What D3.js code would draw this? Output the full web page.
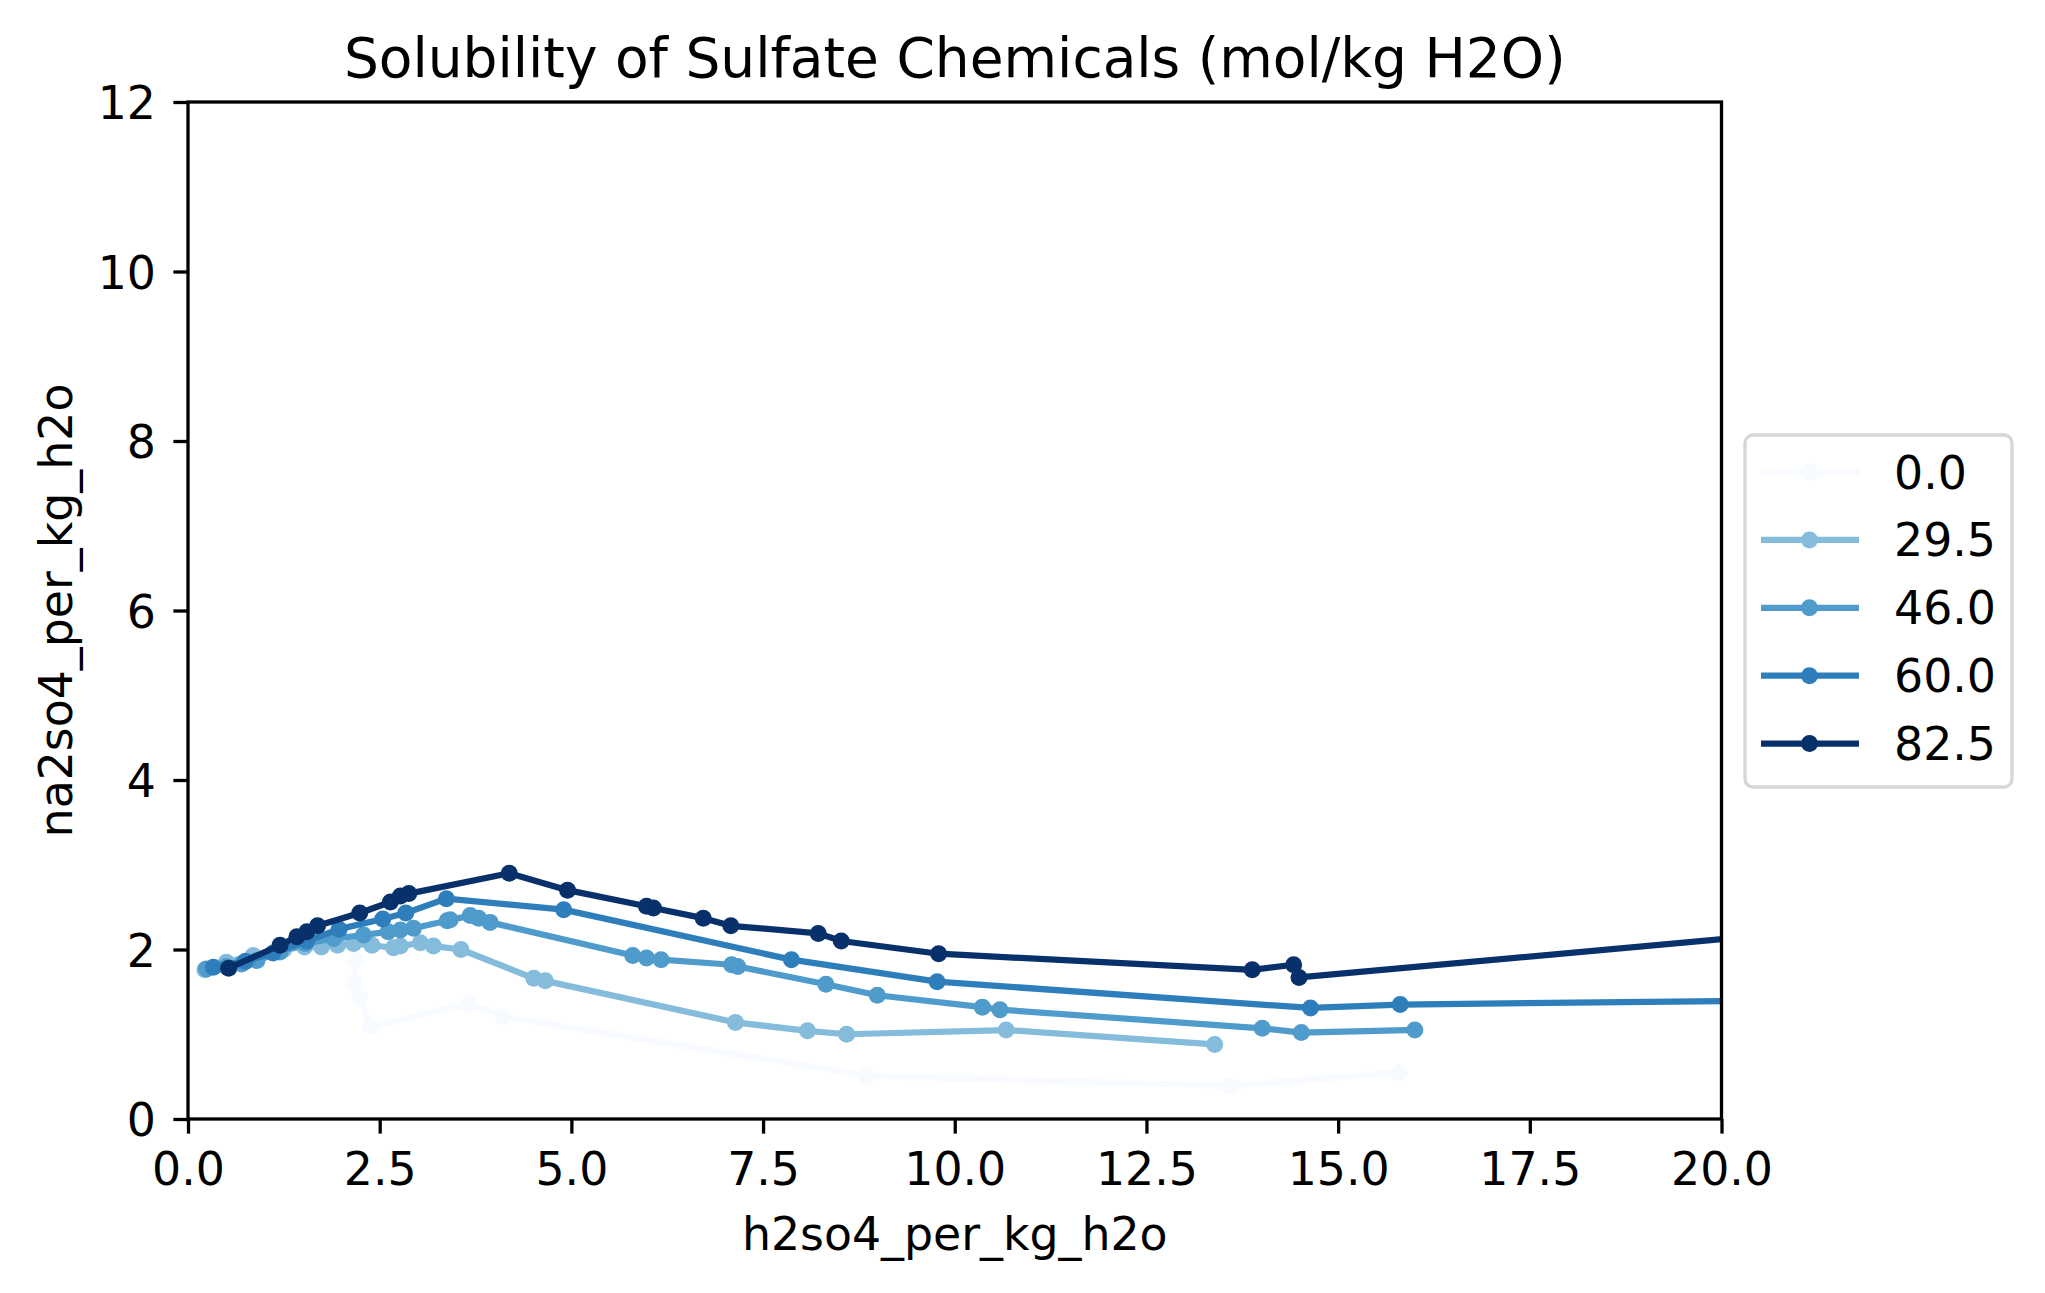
<!DOCTYPE html>
<html><head><meta charset="utf-8">
<script src="https://cdn.jsdelivr.net/npm/d3@7"></script>
<style>
html,body{margin:0;padding:0;background:#fff;}
text{font-family:"DejaVu Sans",sans-serif;fill:#000;}
</style></head>
<body>
<svg id="chart" width="2045" height="1293"></svg>
<script>
const seriesNames = ["0.0", "29.5", "46.0", "60.0", "82.5"];
const seriesColors = ["#f7fbff", "#85bcdc", "#4f9bcb", "#2e7ebc", "#08306b"];

const x_0 = [2.12, 2.19, 2.17, 2.24, 2.38, 3.66, 4.11, 8.85, 13.59, 15.80];
const y_0 = [2.08, 1.87, 1.60, 1.44, 1.09, 1.36, 1.21, 0.51, 0.39, 0.55];

const x_29_5 = [0.22, 0.50, 0.85, 1.25, 1.52, 1.74, 1.95, 2.16, 2.40, 2.68, 2.77, 3.03, 3.20, 3.56, 4.51, 4.66, 7.14, 8.08, 8.59, 10.67, 13.39];
const y_29_5 = [1.76, 1.85, 1.93, 2.00, 2.03, 2.03, 2.05, 2.07, 2.05, 2.02, 2.04, 2.08, 2.04, 2.00, 1.66, 1.63, 1.14, 1.04, 1.00, 1.05, 0.88];

const x_46 = [0.24, 0.50, 0.70, 0.90, 1.20, 1.53, 1.90, 2.29, 2.61, 2.77, 2.94, 3.38, 3.42, 3.68, 3.79, 3.94, 5.80, 5.98, 6.17, 7.09, 7.17, 8.32, 8.99, 10.36, 10.59, 14.01, 14.52, 16.00];
const y_46 = [1.77, 1.80, 1.83, 1.87, 1.97, 2.07, 2.13, 2.17, 2.21, 2.23, 2.25, 2.34, 2.35, 2.40, 2.37, 2.32, 1.93, 1.90, 1.88, 1.82, 1.80, 1.59, 1.46, 1.32, 1.29, 1.07, 1.02, 1.05];

const x_60 = [0.33, 0.75, 1.11, 1.55, 1.97, 2.54, 2.84, 3.37, 4.90, 7.87, 9.77, 14.64, 15.81, 25.0];
const y_60 = [1.79, 1.86, 1.96, 2.10, 2.24, 2.36, 2.43, 2.60, 2.47, 1.88, 1.62, 1.31, 1.35, 1.44];

const x_82_5 = [0.53, 1.20, 1.42, 1.55, 1.69, 2.24, 2.64, 2.77, 2.88, 4.19, 4.95, 5.98, 6.07, 6.72, 7.08, 8.22, 8.52, 9.79, 13.88, 14.42, 14.49, 25.0];
const y_82_5 = [1.78, 2.05, 2.15, 2.21, 2.28, 2.43, 2.56, 2.63, 2.66, 2.90, 2.70, 2.51, 2.49, 2.37, 2.28, 2.19, 2.10, 1.95, 1.76, 1.82, 1.67, 2.53];

const xTicks = [0, 2.5, 5, 7.5, 10, 12.5, 15, 17.5, 20];
const yTicks = [0, 2, 4, 6, 8, 10, 12];

const titleText = "Solubility of Sulfate Chemicals (mol/kg H2O)";
const xLabel = "h2so4_per_kg_h2o";
const yLabel = "na2so4_per_kg_h2o";

const seriesX = [x_0, x_29_5, x_46, x_60, x_82_5];
const seriesY = [y_0, y_29_5, y_46, y_60, y_82_5];

const M = {left: 188, top: 102, right: 1721.5, bottom: 1119};
const svg = d3.select("#chart");
const xS = d3.scaleLinear().domain([0, 20]).range([M.left, M.right]);
const yS = d3.scaleLinear().domain([0, 12]).range([M.bottom, M.top]);

svg.append("defs").append("clipPath").attr("id", "clip")
  .append("rect").attr("x", M.left).attr("y", M.top)
  .attr("width", M.right - M.left).attr("height", M.bottom - M.top);

const plot = svg.append("g").attr("clip-path", "url(#clip)");
const line = d3.line().x(d => xS(d[0])).y(d => yS(d[1]));
const LW = 6.25, R = 8.5;

seriesNames.forEach((name, i) => {
  const pts = seriesX[i].map((v, j) => [v, seriesY[i][j]]);
  const g = plot.append("g");
  g.append("path").datum(pts).attr("d", line)
    .attr("fill", "none").attr("stroke", seriesColors[i])
    .attr("stroke-width", LW).attr("stroke-linejoin", "round").attr("stroke-linecap", "square");
  g.selectAll("circle").data(pts).enter().append("circle")
    .attr("cx", d => xS(d[0])).attr("cy", d => yS(d[1])).attr("r", R)
    .attr("fill", seriesColors[i]);
});

// axes
const xAxis = d3.axisBottom(xS).tickValues(xTicks).tickFormat(d3.format(".1f")).tickSize(14.6).tickPadding(10);
const yAxis = d3.axisLeft(yS).tickValues(yTicks).tickFormat(d3.format("d")).tickSize(14.6).tickPadding(10);

const gx = svg.append("g").attr("transform", `translate(0,${M.bottom})`).call(xAxis);
const gy = svg.append("g").attr("transform", `translate(${M.left},0)`).call(yAxis);
[gx, gy].forEach(g => {
  g.select(".domain").remove();
  g.selectAll(".tick line").attr("stroke", "#000").attr("stroke-width", 3.3);
  g.selectAll(".tick text").attr("font-size", 45.8).attr("font-family", "DejaVu Sans").attr("fill", "#000");
});
gx.selectAll(".tick text").attr("dy", null).attr("y", 0).attr("transform", "translate(0,66)");
gy.selectAll(".tick text").attr("dy", "0.36em").attr("x", -32);

// spines
svg.append("rect").attr("x", M.left).attr("y", M.top)
  .attr("width", M.right - M.left).attr("height", M.bottom - M.top)
  .attr("fill", "none").attr("stroke", "#000").attr("stroke-width", 3.3);

// title and labels
svg.append("text").attr("x", (M.left + M.right) / 2).attr("y", 77)
  .attr("text-anchor", "middle").attr("font-size", 55).text(titleText);
svg.append("text").attr("x", (M.left + M.right) / 2).attr("y", 1250)
  .attr("text-anchor", "middle").attr("font-size", 45.8).text(xLabel);
svg.append("text").attr("transform", `translate(72,${(M.top + M.bottom) / 2}) rotate(-90)`)
  .attr("text-anchor", "middle").attr("font-size", 45.8).text(yLabel);

// legend
const lg = svg.append("g");
lg.append("rect").attr("x", 1745).attr("y", 435).attr("width", 267).attr("height", 352)
  .attr("rx", 8).attr("ry", 8).attr("fill", "#fff").attr("fill-opacity", 0.8)
  .attr("stroke", "#d6d6d6").attr("stroke-width", 3.3);
seriesNames.forEach((name, i) => {
  const yy = 472 + i * 67.9;
  lg.append("line").attr("x1", 1761).attr("x2", 1859).attr("y1", yy).attr("y2", yy)
    .attr("stroke", seriesColors[i]).attr("stroke-width", LW);
  lg.append("circle").attr("cx", 1809.5).attr("cy", yy).attr("r", R).attr("fill", seriesColors[i]);
  lg.append("text").attr("x", 1894).attr("y", yy + 16.5).attr("font-size", 45.8).text(name);
});
</script>
</body></html>
